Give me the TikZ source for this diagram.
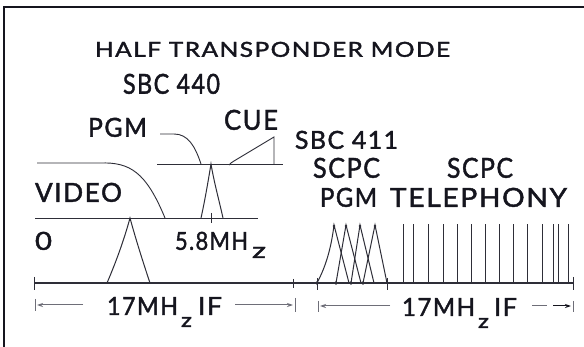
\documentclass[tikz,border=0pt]{standalone}
\usepackage{fontspec}
\setmainfont{Lato}
\newfontfamily\lblfont{Lato}[FakeBold=1.6, LetterSpace=6]
\usepackage{graphicx}
\usetikzlibrary{arrows.meta}
\definecolor{ink}{HTML}{15151E}
\definecolor{lineink}{HTML}{2E2E38}
\definecolor{arrowink}{HTML}{6E6E78}
\newcommand{\fitbox}[3]{\resizebox{#1pt}{#2pt}{\lblfont #3}}
\begin{document}
\begin{tikzpicture}[x=1pt,y=-1pt,
  lbl/.style={anchor=south west, inner sep=0pt, outer sep=0pt, text=ink},
  graphline/.style={draw=lineink, line width=0.9pt},
  axisline/.style={draw=lineink, line width=1.1pt},
  tickmark/.style={draw=lineink, line width=1pt},
  dimline/.style={draw=arrowink, line width=1pt},
  dimarrow/.style={draw=arrowink, line width=1pt, -{Stealth[length=6pt,width=4pt]}},
  carrier/.style={draw=lineink, line width=1pt}]
\useasboundingbox (0,0) rectangle (584,347);
\fill[white] (0,0) rectangle (584,347);
% frame
\draw[draw=ink, line width=2pt] (4,347) -- (4,7) -- (584,7);

% labels
\node[lbl] (title) at (95,57) {\fitbox{355}{15}{HALF TRANSPONDER MODE}};
\node[lbl] (sbcA) at (123,94) {\fitbox{97}{20}{SBC 440}};
\node[lbl] (pgmA) at (88,137) {\fitbox{59}{19}{PGM}};
\node[lbl] (cue) at (224,130) {\fitbox{54}{20}{CUE}};
\node[lbl] (sbcB) at (295,149) {\fitbox{103}{18}{SBC 411}};
\node[lbl] (scpcA) at (313,178) {\fitbox{67}{20}{SCPC}};
\node[lbl] (scpcB) at (447,178) {\fitbox{66}{20}{SCPC}};
\node[lbl] (pgmB) at (320,207) {\fitbox{57}{19}{PGM}};
\node[lbl] (tel) at (390,207) {\fitbox{177}{19}{TELEPHONY}};
\node[lbl] (video) at (35,202) {\fitbox{87}{19}{VIDEO}};
\node[lbl] (zero) at (35,250) {\fitbox{17}{18}{0}};
\node[lbl] (fmh) at (175,250) {\fitbox{73}{18}{5.8MH}};
\node[lbl] (fz) at (252,258) {\fitbox{14}{11}{z}};
\node[lbl] (ifAa) at (107,315) {\fitbox{71}{18}{17MH}};
\node[lbl] (ifAz) at (181,327) {\fitbox{11}{10}{z}};
\node[lbl] (ifAb) at (198,315) {\fitbox{24}{18}{IF}};
\node[lbl] (ifBa) at (402,316) {\fitbox{73}{18}{17MH}};
\node[lbl] (ifBz) at (478,328) {\fitbox{11}{10}{z}};
\node[lbl] (ifBb) at (494,316) {\fitbox{23}{18}{IF}};

% coordinates
\coordinate (axL) at (34,283);
\coordinate (axR) at (573,283);
\coordinate (midL) at (35,218);
\coordinate (midR) at (258,218);
\coordinate (upL) at (157,164);
\coordinate (upR) at (283,164);

% lines
\draw[axisline] (axL) -- (axR);
\draw[graphline] (midL) -- (midR);
\draw[graphline] (upL) -- (upR);

% ticks on main axis
\draw[tickmark] (34,277) -- (34,290);
\draw[tickmark] (293,279) -- (293,288);
\draw[tickmark] (317,278) -- (317,290);
\draw[tickmark] (387,278) -- (387,290);
\draw[tickmark] (573,277) -- (573,290);
% tick on middle line
\draw[tickmark] (211,213) -- (211,223);

% video baseband curve
\draw[graphline] (37,163) -- (100,163) .. controls (130,162) and (146,172) .. (165,218);
% PGM curve
\draw[graphline] (160,134) -- (174,134) .. controls (188,134) and (195,146) .. (201,164);
% CUE triangle
\draw[graphline] (229,165) .. controls (231,163) and (232,162) .. (234,161) -- (274,137) -- (274,164);

% carriers
\draw[carrier] (107,283) .. controls (116,262) and (124,240) .. (130,218) .. controls (136,240) and (143,262) .. (150,283);
\draw[carrier] (201,218) .. controls (205,200) and (208,182) .. (211,164) .. controls (214,182) and (219,200) .. (223,218);

% SCPC PGM carriers
\draw[carrier] (317,283) .. controls (325,268) and (331,250) .. (334,225) -- (349,283);
\draw[carrier] (336,283) -- (346,225) -- (361,283);
\draw[carrier] (351,283) -- (360,225) -- (374,283);
\draw[carrier] (363,283) -- (375,225) -- (387,283);
\foreach \px in {317,336,351,363} \fill[lineink] (\px,283) circle (1.8pt);
\foreach \px in {334,346,360,375} \fill[lineink] (\px,226) circle (1.4pt);

% telephony carriers
\foreach \tx in {403,413,428,443,457,471,485,499,513,527,542,553,558,568}
  \draw[draw=lineink, line width=0.7pt] (\tx,283) -- (\tx,224);

% dimension lines left
\draw[dimline] (35,299) -- (35,311);
\draw[dimline] (295,298) -- (295,312);
\draw[dimarrow] (83,305) -- (37,305);
\draw[dimarrow] (235,305) -- (293,305);
% dimension lines right
\draw[dimline] (318,301) -- (318,312);
\draw[dimline] (573,301) -- (573,312);
\draw[dimarrow] (390,306) -- (320,306);
\draw[dimline] (532,306) -- (547,306);
\draw[dimarrow, draw=ink] (553,306) -- (571,306);
\end{tikzpicture}
\end{document}
